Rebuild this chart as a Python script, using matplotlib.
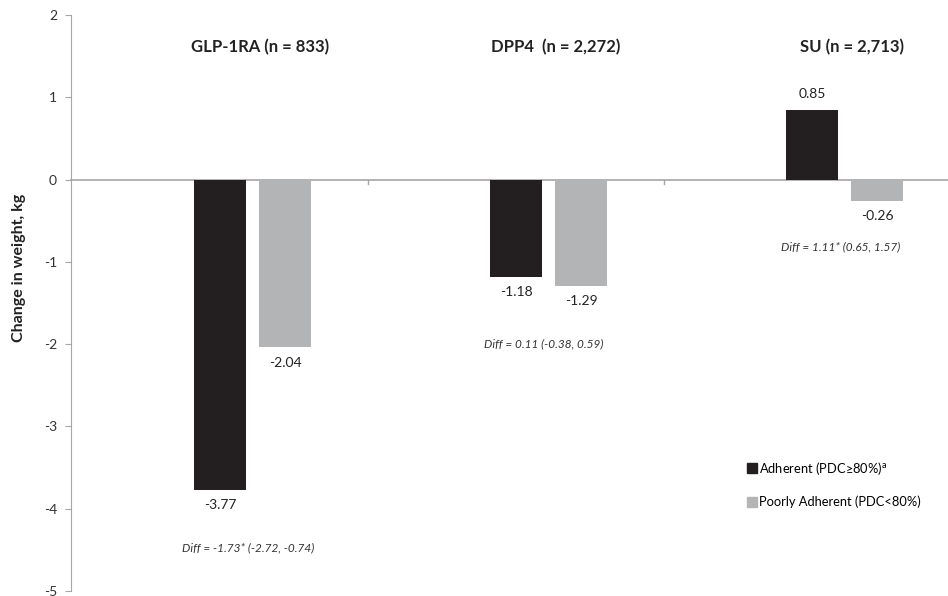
import matplotlib.pyplot as plt
from matplotlib.lines import Line2D
import numpy as np

plt.rcParams['font.family'] = ['Lato', 'DejaVu Sans']

groups = ['GLP-1RA (n = 833)', 'DPP4  (n = 2,272)', 'SU (n = 2,713)']
adherent = [-3.77, -1.18, 0.85]
poorly = [-2.04, -1.29, -0.26]
diffs = ['Diff = -1.73* (-2.72, -0.74)', 'Diff = 0.11 (-0.38, 0.59)', 'Diff = 1.11* (0.65, 1.57)']
diff_y = [-4.48, -1.99, -0.82]
series_names = ['Adherent (PDC\u226580%)', 'Poorly Adherent (PDC<80%)']

black = '#231f20'
grey = '#b3b4b6'
axis_grey = '#a6a6a6'

x = np.arange(len(groups))
w = 0.175
off = 0.22

fig = plt.figure(figsize=(9.48, 5.96), dpi=100)
ax = fig.add_axes([71/948, 5/596, 1 - 71/948, 576/596])

ax.bar(x, adherent, width=w, color=black, zorder=3)
ax.bar(x + off, poorly, width=w, color=grey, zorder=3)

# value labels
for xi, v in zip(x, adherent):
    ax.annotate(f'{v:.2f}', (xi, v), xytext=(0, 11 if v > 0 else -11), textcoords='offset points',
                ha='center', va='center', fontsize=10, color='#222222')
for xi, v in zip(x, poorly):
    ax.annotate(f'{v:.2f}', (xi + off, v), xytext=(0, 11 if v > 0 else -11), textcoords='offset points',
                ha='center', va='center', fontsize=10, color='#222222')

# group titles
for xi, g in zip(x, groups):
    ax.text(xi + 0.135, 1.61, g, ha='center', va='center', fontsize=12, fontweight='bold', color='#222222')

# diff notes
for xi, d, dy in zip(x, diffs, diff_y):
    ax.text(xi + 0.095, dy, d, ha='center', va='center', fontsize=8.5, style='italic', color='#333333')

ax.set_xlim(-0.503, 2.459)
ax.set_ylim(-5, 2)
ax.set_yticks(range(-5, 3))
ax.set_yticklabels([str(t) for t in range(-5, 3)], fontsize=10, color='#333333')
ax.set_xticks([])

for s in ['top', 'right', 'bottom']:
    ax.spines[s].set_visible(False)
ax.spines['left'].set_color(axis_grey)
ax.tick_params(axis='y', length=4, color=axis_grey, pad=6)

ax.axhline(0, color=axis_grey, lw=1.2, zorder=2, clip_on=False)
for b in [0.5, 1.5]:
    ax.plot([b, b], [0, -0.05], color=axis_grey, lw=1, zorder=2)

fig.text(19/948, 1 - 268/596, 'Change in weight, kg', rotation=90, ha='center', va='center',
         fontsize=11.5, fontweight='bold', color='#222222')

handles = [Line2D([], [], marker='s', ls='', color=black, markersize=6.5),
           Line2D([], [], marker='s', ls='', color=grey, markersize=6.5)]
labels = [series_names[0] + '$^{\\mathregular{a}}$', series_names[1]]
fig.legend(handles, labels, loc='center left', bbox_to_anchor=(736/948, 1 - 484/596),
           frameon=False, fontsize=9.3, handlelength=0.7, handletextpad=0.2, labelspacing=1.5)

fig.savefig('out.png', dpi=100)
